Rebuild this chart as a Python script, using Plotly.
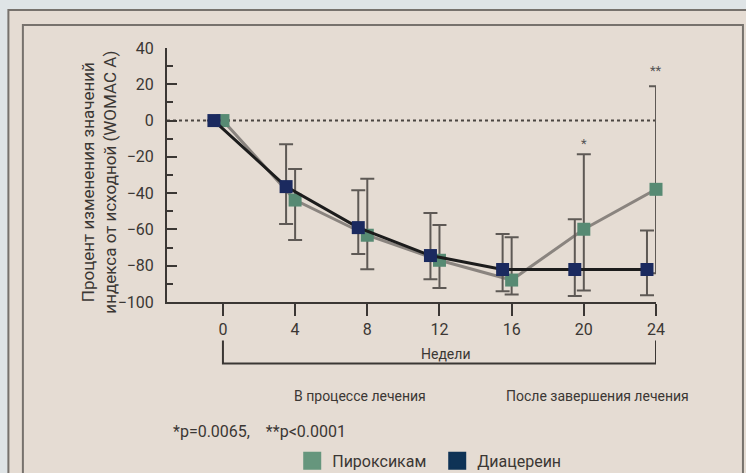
import plotly.graph_objects as go

# ---- data ----
weeks = [0, 4, 8, 12, 16, 20, 24]
week_ticks = [0, 4, 8, 12, 16, 20, 24]

piroxicam = [0, -43.8, -63.2, -77.0, -87.9, -59.9, -37.9]
piroxicam_upper = [None, -26.7, -32.0, -57.5, -64.3, -18.6, 18.9]
piroxicam_lower = [None, -65.8, -82.0, -92.3, -95.9, -93.7, -84.2]

diacerein = [0, -36.4, -59.0, -74.4, -82.1, -82.1, -82.1]
diacerein_upper = [None, -13.0, -38.4, -50.9, -62.5, -54.4, -60.6]
diacerein_lower = [None, -57.0, -73.5, -87.5, -94.1, -96.7, -96.3]

star_weeks = [20, 24]
star_labels = ["*", "**"]
star_levels = [-12.5, 27.5]

series_names = ["Пироксикам", "Диацереин"]

# ---- styling ----
FONT = "Roboto, Open Sans, sans-serif"
TXT = "#3b3734"
GREEN = "#578a73"
GREEN_LEG = "#66967d"
NAVY = "#1b2a5f"
NAVY_LEG = "#0f3356"
BEIGE = "#e5dcd3"
OUTSIDE = "#dfe4e6"
FRAME = "#77726d"
ERR = "#5e5955"


def err_plus(mean, upper):
    return [None if u is None else u - m for m, u in zip(mean, upper)]


def err_minus(mean, lower):
    return [None if l is None else m - l for m, l in zip(mean, lower)]


dia_offset = -0.5
dia_x = [w + dia_offset for w in weeks]

fig = go.Figure()

fig.add_trace(go.Scatter(
    x=weeks, y=piroxicam, mode="lines+markers", name=series_names[0],
    showlegend=False, cliponaxis=False,
    line=dict(color="#8a847f", width=3),
    marker=dict(symbol="square", size=13, color=GREEN),
    error_y=dict(type="data", symmetric=False,
                 array=err_plus(piroxicam, piroxicam_upper),
                 arrayminus=err_minus(piroxicam, piroxicam_lower),
                 color=ERR, thickness=2, width=7),
))
fig.add_trace(go.Scatter(
    x=dia_x, y=diacerein, mode="lines+markers", name=series_names[1],
    showlegend=False, cliponaxis=False,
    line=dict(color="#1c1c1c", width=3),
    marker=dict(symbol="square", size=13, color=NAVY),
    error_y=dict(type="data", symmetric=False,
                 array=err_plus(diacerein, diacerein_upper),
                 arrayminus=err_minus(diacerein, diacerein_lower),
                 color=ERR, thickness=2, width=7),
))

# legend-only entries (square swatches)
for name, col in zip(series_names, [GREEN_LEG, NAVY_LEG]):
    fig.add_trace(go.Scatter(
        x=[None], y=[None], mode="markers", name=name,
        marker=dict(symbol="square", size=16, color=col, line=dict(color=col, width=2)),
    ))

# significance stars
for w, lab, lv in zip(star_weeks, star_labels, star_levels):
    fig.add_annotation(x=w, y=lv, text=lab, showarrow=False,
                       font=dict(family=FONT, size=13, color="#555"),
                       xanchor="center", yanchor="middle")

# plot geometry (pixels) for paper conversions
L, R, T, B = 166.7, 656.0, 47.7, 301.7
PW, PH = R - L, B - T


def xp(px):
    return (px - L) / PW


def yp(py):
    return (B - py) / PH


shapes = []
# outer frame (beige panel)
shapes.append(dict(type="rect", xref="paper", yref="paper", layer="below",
                   x0=xp(8), x1=xp(770), y0=yp(490), y1=yp(9.7),
                   fillcolor=BEIGE, line=dict(color=FRAME, width=2)))
# inner frame
shapes.append(dict(type="rect", xref="paper", yref="paper", layer="below",
                   x0=xp(22.5), x1=xp(743), y0=yp(490), y1=yp(24.7),
                   fillcolor="rgba(0,0,0,0)", line=dict(color=FRAME, width=2)))
# dotted zero line
shapes.append(dict(type="line", xref="paper", yref="y", layer="below",
                   x0=0, x1=1, y0=0, y1=0,
                   line=dict(color="#4a4541", width=2, dash="dot")))
# weeks bracket
shapes.append(dict(type="path", xref="x", yref="paper", layer="above",
                   path=(f"M {weeks[0]},{yp(340.3)} L {weeks[0]},{yp(363.1)} "
                         f"L {weeks[-1]},{yp(363.1)} L {weeks[-1]},{yp(340.3)}"),
                   line=dict(color=TXT, width=2)))

annos = [
    dict(x=xp(99), y=yp(182), text="Процент изменения значений<br>индекса от исходной (WOMAC A)",
         textangle=-90, font=dict(size=17)),
    dict(x=xp(445.7), y=yp(353.7), text="Недели", font=dict(size=14)),
    dict(x=xp(360), y=yp(395.7), text="В процессе лечения", font=dict(size=14)),
    dict(x=xp(597.2), y=yp(395.7), text="После завершения лечения", font=dict(size=14)),
    dict(x=xp(170.7), y=yp(431), text="*p=0.0065,&nbsp;&nbsp;&nbsp;&nbsp;**p&lt;0.0001",
         xanchor="left", font=dict(size=16)),
]
for a in annos:
    a.setdefault("xanchor", "center")
    fig.add_annotation(xref="paper", yref="paper", showarrow=False, yanchor="middle",
                       **{k: v for k, v in a.items() if k != "font"},
                       font=dict(family=FONT, color=TXT, **a["font"]))

fig.update_layout(
    width=746, height=473,
    margin=dict(l=L, r=746 - R, t=T, b=473 - B, pad=0, autoexpand=False),
    paper_bgcolor=OUTSIDE, plot_bgcolor="rgba(0,0,0,0)",
    font=dict(family=FONT, color=TXT, size=16),
    shapes=shapes,
    showlegend=True,
    legend=dict(orientation="h", x=xp(292), y=yp(460.5), xanchor="left", yanchor="middle",
                bgcolor="rgba(0,0,0,0)", font=dict(family=FONT, size=16, color=TXT),
                itemsizing="trace", entrywidth=100, entrywidthmode="pixels"),
)
fig.update_xaxes(range=[-3.1, 24], tickvals=week_ticks, ticks="outside", ticklen=12,
                 tickwidth=2, tickcolor=TXT, showline=True, linewidth=2, linecolor=TXT,
                 showgrid=False, zeroline=False, tickfont=dict(size=16, color=TXT),
                 automargin=False)
fig.update_yaxes(range=[-100, 40], dtick=20, ticks="inside", ticklen=10, tickwidth=2,
                 tickcolor=TXT, showline=True, linewidth=2, linecolor=TXT,
                 showgrid=False, zeroline=False, tickfont=dict(size=16, color=TXT),
                 ticklabelstandoff=8, automargin=False,
                 minor=dict(dtick=10, ticks="inside", ticklen=6, tickwidth=2, tickcolor=TXT,
                            showgrid=False))

fig.write_html("out.html", config={"displayModeBar": False},
               post_script="document.body.style.margin='0px';document.body.style.overflow='hidden';")
